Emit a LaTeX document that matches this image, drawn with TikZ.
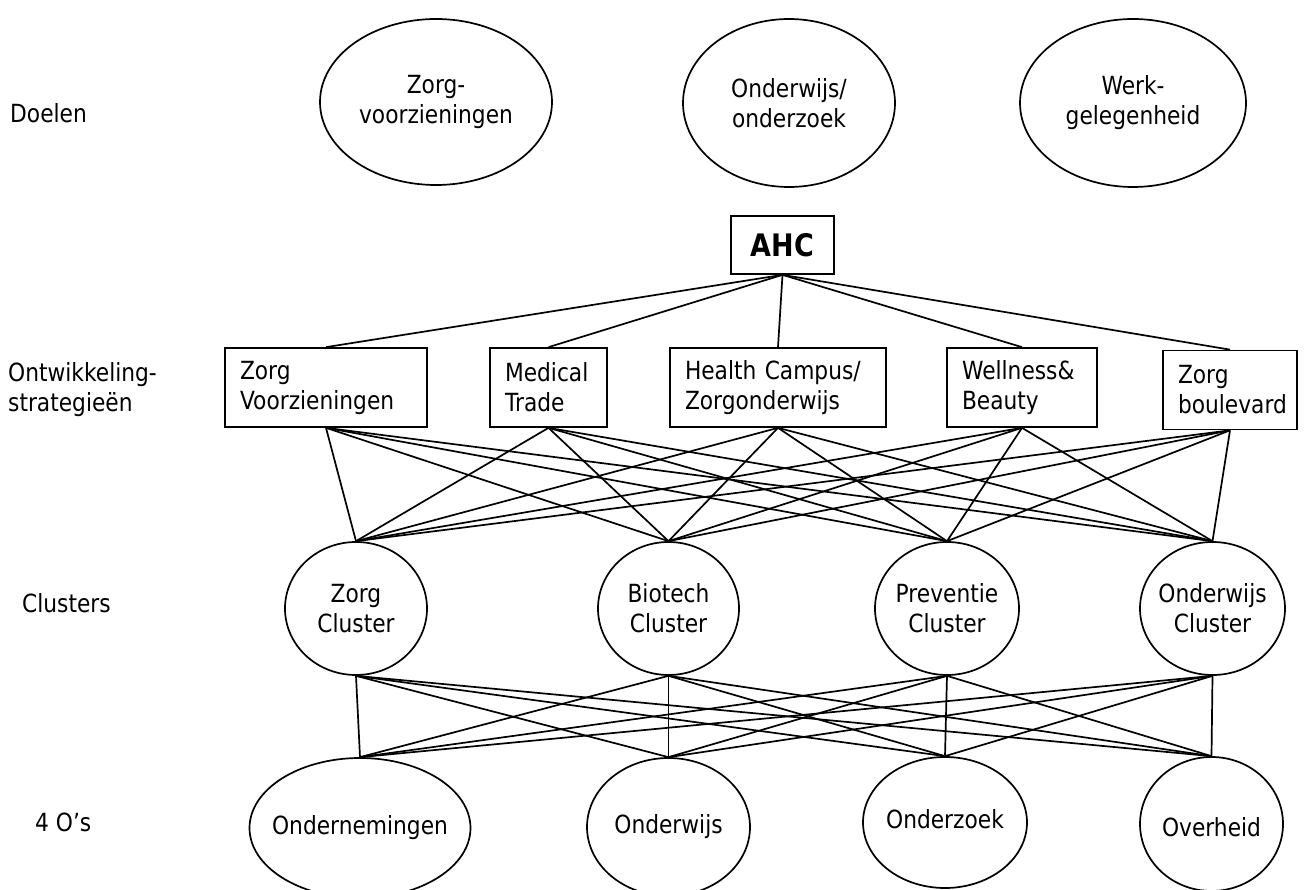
\documentclass[tikz,border=0pt]{standalone}
\usepackage{fontspec}
\setmainfont{DejaVu Sans}[FakeStretch=0.87]
\usetikzlibrary{shapes.geometric}
\begin{document}
\begin{tikzpicture}[x=1pt,y=-1pt,
  ell/.style={ellipse, draw, line width=1.7pt, inner sep=0pt},
  txt/.style={inner sep=0pt, align=center, font=\fontsize{25}{30}\selectfont},
  lab/.style={inner sep=0pt, anchor=west, align=left, font=\fontsize{25}{30}\selectfont},
  sbox/.style={draw, rectangle, line width=1.7pt, inner xsep=15pt, inner ysep=0pt, align=left, minimum height=79pt, font=\fontsize{25}{30}\selectfont},
  conn/.style={line width=1.7pt}]
\useasboundingbox (0,0) rectangle (1312,890);
\clip (0,0) rectangle (1312,890);

% left labels
\node[lab] (l1) at (10,113) {Doelen};
\node[lab] (l2) at (8,390) {Ontwikkeling-\\strategieën};
\node[lab] (l3) at (22,603) {Clusters};
\node[lab] (l4) at (35,822) {4 O’s};

% goals
\node[ell, minimum width=232pt, minimum height=166pt] (g1) at (436,102) {};
\node[txt] (g1t) at (g1) {Zorg-\\voorzieningen};
\node[ell, minimum width=212pt, minimum height=168pt] (g2) at (789,103) {};
\node[txt] (g2t) at (g2) {Onderwijs/\\onderzoek};
\node[ell, minimum width=226pt, minimum height=168pt] (g3) at (1133,103) {};
\node[txt] (g3t) at (g3) {Werk-\\gelegenheid};

% AHC
\node[draw, line width=1.7pt, minimum width=103pt, minimum height=58pt, inner sep=0pt,
      font=\fontsize{31}{36}\selectfont\bfseries] (ahc) at (782.5,245) {AHC};

% strategies
\node[sbox, text width=172pt] (s1) at (326,387.5) {Zorg\\Voorzieningen};
\node[sbox, text width=87pt] (s2) at (548.5,387.5) {Medical\\Trade};
\node[sbox, text width=186pt] (s3) at (778,387.5) {Health Campus/\\Zorgonderwijs};
\node[sbox, text width=120pt] (s4) at (1022,387.5) {Wellness\&\\Beauty};
\node[sbox, text width=104pt] (s5) at (1230,390) {Zorg\\boulevard};

% clusters
\node[ell, minimum width=142pt, minimum height=133pt] (c1) at (356,608.5) {};
\node[txt] (c1t) at (c1) {Zorg\\Cluster};
\node[ell, minimum width=141pt, minimum height=133pt] (c2) at (668.5,608.5) {};
\node[txt] (c2t) at (c2) {Biotech\\Cluster};
\node[ell, minimum width=144pt, minimum height=133pt] (c3) at (947,608.5) {};
\node[txt] (c3t) at (c3) {Preventie\\Cluster};
\node[ell, minimum width=145pt, minimum height=133pt] (c4) at (1212.5,608.5) {};
\node[txt] (c4t) at (c4) {Onderwijs\\Cluster};

% 4 O's
\node[ell, minimum width=221pt, minimum height=140pt] (o1) at (360,828) {};
\node[txt] (o1t) at (o1) {Ondernemingen};
\node[ell, minimum width=163pt, minimum height=138pt] (o2) at (668.5,827) {};
\node[txt] (o2t) at (o2) {Onderwijs};
\node[ell, minimum width=164pt, minimum height=131pt] (o3) at (945,822.5) {};
\node[txt] (o3t) at ([yshift=3pt]o3.center) {Onderzoek};
\node[ell, minimum width=143pt, minimum height=134pt] (o4) at (1211.5,824) {};
\node[txt] (o4t) at ([yshift=-3pt]o4.center) {Overheid};

% connectors
\foreach \s in {s1,s2,s3,s4,s5}
  \draw[conn] (ahc.south) -- (\s.north);
\foreach \s in {s1,s2,s3,s4,s5}
  \foreach \c in {c1,c2,c3,c4}
    \draw[conn] (\s.south) -- (\c.north);
\foreach \c in {c1,c2,c3,c4}
  \foreach \o in {o1,o2,o3,o4}
    \draw[conn] (\c.south) -- (\o.north);
\end{tikzpicture}
\end{document}
